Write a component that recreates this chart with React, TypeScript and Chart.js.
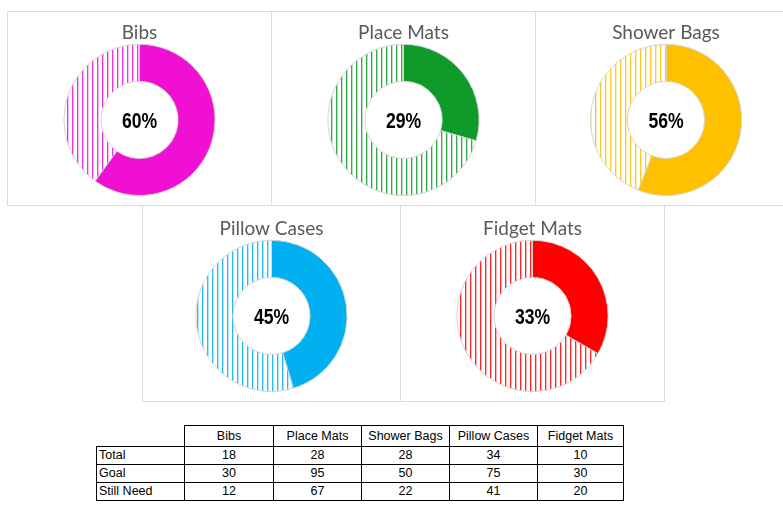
import React, { useEffect, useRef } from "react";
import { Chart, registerables } from "chart.js";

Chart.register(...registerables);

// ---- data ----
const categories = ["Bibs", "Place Mats", "Shower Bags", "Pillow Cases", "Fidget Mats"];
const totals = [18, 28, 28, 34, 10];
const goals = [30, 95, 50, 75, 30];
const stillNeed = [12, 67, 22, 41, 20];
const rowLabels = ["Total", "Goal", "Still Need"];
const colors = ["#EF10D4", "#0E9B2A", "#FFC000", "#00B0F0", "#FF0000"];

// ---- layout (panel rectangles) ----
const panels = [
  { left: 7, top: 11, width: 265, height: 195, canvasTop: 11 },
  { left: 271, top: 11, width: 265, height: 195, canvasTop: 11 },
  { left: 535, top: 11, width: 262, height: 195, canvasTop: 11 },
  { left: 142, top: 205, width: 259, height: 197, canvasTop: 207 },
  { left: 400, top: 205, width: 265, height: 197, canvasTop: 207 },
];

function hexToRgba(hex: string, a: number) {
  const n = parseInt(hex.slice(1), 16);
  return `rgba(${(n >> 16) & 255},${(n >> 8) & 255},${n & 255},${a})`;
}

function makePattern(color: string): CanvasPattern | string {
  const c = document.createElement("canvas");
  c.width = 5;
  c.height = 5;
  const ctx = c.getContext("2d");
  if (!ctx) return color;
  ctx.fillStyle = "#ffffff";
  ctx.fillRect(0, 0, 5, 5);
  ctx.fillStyle = hexToRgba(color, 0.85);
  ctx.fillRect(0, 0, 1, 5);
  ctx.fillStyle = hexToRgba(color, 0.3);
  ctx.fillRect(1, 0, 1, 5);
  return ctx.createPattern(c, "repeat") || color;
}

const centerText = {
  id: "centerText",
  afterDraw(chart: any) {
    const meta = chart.getDatasetMeta(0);
    const arc = meta.data[0];
    if (!arc) return;
    const txt = chart.options.plugins.centerText?.text ?? "";
    const ctx = chart.ctx;
    ctx.save();
    ctx.translate(arc.x, arc.y + 2);
    ctx.scale(0.8, 1);
    ctx.font = 'bold 22px "Liberation Sans", Arial, sans-serif';
    ctx.fillStyle = "#000000";
    ctx.textAlign = "center";
    ctx.textBaseline = "middle";
    ctx.fillText(txt, 0, 0);
    ctx.restore();
  },
};

function DonutPanel({ index }: { index: number }) {
  const ref = useRef<HTMLCanvasElement | null>(null);
  const p = panels[index];
  const cw = p.width;
  const ch = 194;
  useEffect(() => {
    if (!ref.current) return;
    const pct = Math.round((totals[index] / goals[index]) * 100) + "%";
    const chart = new Chart(ref.current, {
      type: "doughnut",
      data: {
        labels: ["Total", "Still Need"],
        datasets: [
          {
            data: [totals[index], stillNeed[index]],
            backgroundColor: [colors[index], makePattern(colors[index]) as any],
            borderColor: "#d4d4d4",
            borderWidth: 1,
          },
        ],
      },
      options: {
        animation: false,
        responsive: false,
        cutout: "51%",
        layout: { padding: { top: 6, bottom: 9, left: 0, right: 0 } },
        plugins: {
          legend: { display: false },
          tooltip: { enabled: false },
          title: {
            display: true,
            text: categories[index],
            color: "#595959",
            font: { family: "Lato, 'Open Sans', sans-serif", size: 19, weight: "normal" as any },
            padding: { top: 4, bottom: 0 },
          },
          centerText: { text: pct },
        } as any,
      },
      plugins: [centerText],
    });
    return () => chart.destroy();
  }, [index]);
  return (
    <>
      <div
        style={{
          position: "absolute",
          left: p.left,
          top: p.top,
          width: p.width,
          height: p.height,
          boxSizing: "border-box",
          border: "1px solid #dcdcdc",
        }}
      />
      <canvas
        ref={ref}
        width={cw}
        height={ch}
        style={{ position: "absolute", left: p.left, top: p.canvasTop, width: cw, height: ch }}
      />
    </>
  );
}

const tableRows = [totals, goals, stillNeed];
const colWidths = [88, 89, 88, 88, 88, 86];

export default function App() {
  const cell: React.CSSProperties = {
    border: "1px solid #000",
    padding: 0,
    height: 17,
    textAlign: "center",
    fontSize: 12.5,
    lineHeight: "17px",
  };
  return (
    <div
      style={{
        position: "absolute",
        left: 0,
        top: 0,
        width: 783,
        height: 508,
        overflow: "hidden",
        background: "#fff",
        fontFamily: '"Liberation Sans", Arial, sans-serif',
      }}
    >
      {categories.map((_, i) => (
        <DonutPanel key={i} index={i} />
      ))}
      <table
        style={{
          position: "absolute",
          left: 96,
          top: 425,
          borderCollapse: "collapse",
          tableLayout: "fixed",
          color: "#000",
        }}
      >
        <colgroup>
          {colWidths.map((w, i) => (
            <col key={i} style={{ width: w }} />
          ))}
        </colgroup>
        <tbody>
          <tr>
            <td style={{ ...cell, borderTop: "none", borderLeft: "none", height: 20, lineHeight: "20px" }}></td>
            {categories.map((c) => (
              <td key={c} style={{ ...cell, height: 20, lineHeight: "20px" }}>
                {c}
              </td>
            ))}
          </tr>
          {tableRows.map((row, r) => (
            <tr key={r}>
              <td style={{ ...cell, textAlign: "left", paddingLeft: 2 }}>{rowLabels[r]}</td>
              {row.map((v, i) => (
                <td key={i} style={cell}>
                  {v}
                </td>
              ))}
            </tr>
          ))}
        </tbody>
      </table>
    </div>
  );
}
